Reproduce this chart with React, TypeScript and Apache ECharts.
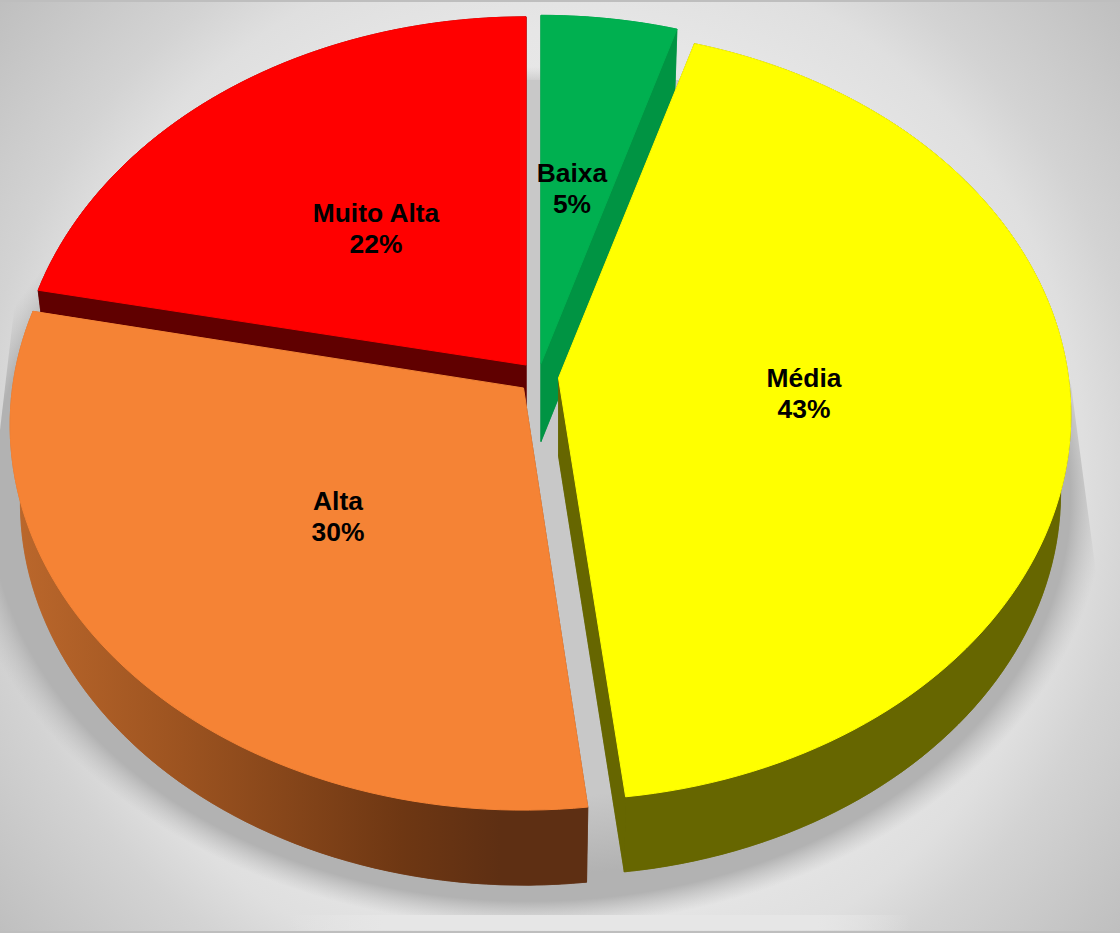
import React, { useEffect, useRef } from "react";
import * as echarts from "echarts";

const categories = ["Baixa", "Média", "Alta", "Muito Alta"];
const shares = [4.7, 43.4, 30.1, 21.8];

const W = 1120, H = 933;
const RX = 510, RY = 381.6, PERSP = 0.096;
const DEPTH = 78, FOOT_X = 0.98, FOOT_Y = 0.993;
// per-slice layout, same order as categories
const apexes = [[541, 363.5], [558.5, 378], [523.5, 388], [526, 365]];
const radiusX = [1, 1, 1.002, 0.995];
const rotation = [0, 0, 0.3, 0];
const labelAt = [[572, 188], [804, 393], [338, 516], [376, 228]];
const topFill = ["#00B050", "#FFFF00", "#F58335", "#FF0000"];
const drawOrder = [1, 2, 3, 0]; // stacking rank per slice: red first, orange last
const orangeWall = {
  type: "linear", x: 10, y: 0, x2: 587, y2: 0, global: true,
  colorStops: [
    { offset: 0, color: "#BC682C" },
    { offset: 0.3, color: "#9C5320" },
    { offset: 0.68, color: "#6E3713" },
    { offset: 0.85, color: "#5E2F13" },
    { offset: 1, color: "#5E2F13" },
  ],
};
const wallFill: any[] = ["#009443", "#666600", orangeWall, "#600000"];
const pageFill = {
  type: "radial", x: W / 2, y: H / 2, r: 728, global: true,
  colorStops: [
    { offset: 0, color: "#EEEEEE" },
    { offset: 0.6, color: "#E6E6E6" },
    { offset: 0.72, color: "#DFDFDF" },
    { offset: 0.8, color: "#D3D3D3" },
    { offset: 1, color: "#BFBFBF" },
  ],
};

function project(ax: number, ay: number, deg: number, sx: number) {
  const t = (deg * Math.PI) / 180;
  const s = 1 / (1 + PERSP * Math.cos(t));
  return [ax + RX * sx * Math.sin(t) * s, ay - RY * Math.cos(t) * s];
}

function renderItem(params: any, api: any) {
  const i = params.dataIndex;
  const total = shares.reduce((a, b) => a + b, 0);
  const before = shares.slice(0, i).reduce((a, b) => a + b, 0);
  const a0 = (before / total) * 360 + rotation[i];
  const a1 = ((before + api.value(0)) / total) * 360 + rotation[i];
  const [ax, ay] = apexes[i];
  const arc: number[][] = [];
  const n = Math.max(8, Math.ceil((a1 - a0) / 1.5));
  for (let k = 0; k <= n; k++) arc.push(project(ax, ay, a0 + ((a1 - a0) * k) / n, radiusX[i]));
  const down = (p: number[]) => [ax + (p[0] - ax) * FOOT_X, ay + DEPTH + (p[1] - ay) * FOOT_Y];
  const base = drawOrder[i] * 10;
  const wall = wallFill[i];
  const wallStyle = { fill: wall, stroke: wall, lineWidth: 0.6 };
  const poly = (points: number[][], style: any, z2: number) => ({
    type: "polygon", shape: { points }, style, z2, silent: true,
  });
  const apex = [ax, ay];
  const first = arc[0], last = arc[arc.length - 1];
  const children: any[] = [
    poly([down(apex), ...arc.map(down)], wallStyle, base),
    poly([...arc, ...arc.map(down).reverse()], wallStyle, base),
    poly([apex, first, down(first), down(apex)], wallStyle, base),
    poly([apex, last, down(last), down(apex)], wallStyle, base),
    poly([apex, ...arc], { fill: topFill[i], stroke: topFill[i], lineWidth: 1 }, base + 1),
    {
      type: "text",
      z2: 100,
      silent: true,
      style: {
        text: `${categories[i]}\n${Math.round(api.value(0))}%`,
        x: labelAt[i][0],
        y: labelAt[i][1],
        fill: "#000",
        align: "center",
        verticalAlign: "middle",
        fontFamily: "Liberation Sans",
        fontWeight: "bold",
        fontSize: 26.4,
        lineHeight: 31,
      },
    },
  ];
  return { type: "group", children };
}

export default function App() {
  const ref = useRef<HTMLDivElement>(null);
  useEffect(() => {
    document.body.style.margin = "0";
    const chart = echarts.init(ref.current!, null, { renderer: "svg" });
    chart.setOption({
      animation: false,
      graphic: [
        { type: "rect", z: 0, silent: true, shape: { x: 0, y: 0, width: W, height: H }, style: { fill: pageFill } },
        {
          type: "circle", z: 1, silent: true, x: 530, y: 497, scaleX: 5.75, scaleY: 4.3,
          shape: { cx: 0, cy: 0, r: 100 },
          style: {
            fill: {
              type: "radial", x: 0.5, y: 0.5, r: 0.5,
              colorStops: [
                { offset: 0, color: "rgba(200,200,200,1)" },
                { offset: 0.7, color: "rgba(200,200,200,1)" },
                { offset: 0.88, color: "rgba(178,178,178,1)" },
                { offset: 0.94, color: "rgba(178,178,178,1)" },
                { offset: 1, color: "rgba(190,190,190,0)" },
              ],
            },
          },
        },
        { type: "rect", z: 1, silent: true, shape: { x: 500, y: 80, width: 250, height: 420 }, style: { fill: "#C8C8C8" } },
        { type: "polygon", z: 1, silent: true, shape: { points: [[1000, 250], [1071, 385], [1105, 640], [1120, 640], [1120, 250]] }, style: { fill: pageFill } },
        { type: "polygon", z: 1, silent: true, shape: { points: [[14, 300], [14, 310], [0, 430], [0, 300]] }, style: { fill: pageFill } },
        { type: "rect", z: 1, silent: true, shape: { x: 290, y: 915, width: 620, height: 15 },
          style: { fill: { type: "linear", x: 0, y: 0, x2: 1, y2: 0, colorStops: [{ offset: 0, color: "rgba(230,230,230,0)" }, { offset: 0.15, color: "#E6E6E6" }, { offset: 0.85, color: "#E6E6E6" }, { offset: 1, color: "rgba(230,230,230,0)" }] } } },
        { type: "rect", z: 1, silent: true, shape: { x: 0, y: 0, width: W, height: 2 }, style: { fill: "#BEBEBE" } },
        { type: "rect", z: 1, silent: true, shape: { x: 0, y: 931, width: W, height: 2 }, style: { fill: "#BEBEBE" } },
      ],
      series: [
        {
          type: "custom",
          coordinateSystem: "none",
          renderItem,
          data: shares.map((v, i) => ({ name: categories[i], value: [v] })),
          silent: true,
          z: 5,
        },
      ],
    });
    return () => chart.dispose();
  }, []);
  return <div ref={ref} style={{ width: W, height: H }} />;
}
